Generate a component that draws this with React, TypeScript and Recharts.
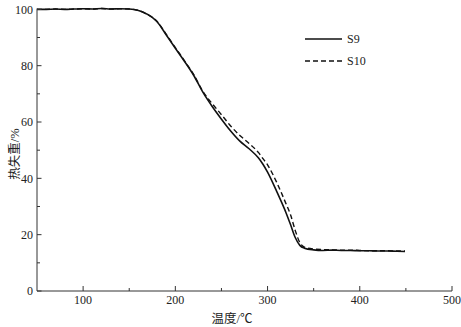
import { Label, Legend, Line, LineChart, XAxis, YAxis } from 'recharts'

const FONT = 'Liberation Serif, Times New Roman, DejaVu Serif, serif'
const CJK_FONT = 'Liberation Serif, Noto Sans CJK SC, serif'

// temperature (°C) and residual mass (%)
const temps = [
  50, 60, 70, 80, 90, 100, 110, 120, 130, 140, 150, 160, 165, 170, 180, 190, 200, 210, 220, 230,
  240, 250, 260, 270, 280, 290, 295, 300, 310, 320, 325, 330, 335, 340, 350, 360, 370, 380, 390,
  400, 410, 420, 430, 440, 449,
]
const s9 = [
  100, 100, 100.1, 100, 100.1, 100.2, 100.1, 100.3, 100.1, 100.2, 100.1, 99.6, 99, 98.2, 95.7, 91,
  86.2, 81.5, 76.5, 70.5, 65.5, 61, 56.8, 53.2, 50.5, 47.3, 45, 42.2, 35.3, 27.8, 23.5, 19, 16.2,
  15.2, 14.6, 14.4, 14.5, 14.4, 14.4, 14.3, 14.3, 14.2, 14.2, 14.1, 14.05,
]
const s10 = [
  100, 100, 100.1, 100, 100.1, 100.2, 100.1, 100.3, 100.1, 100.2, 100.1, 99.6, 99, 98.2, 95.8, 91.2,
  86.4, 81.7, 76.8, 70.8, 66.5, 62.6, 58.6, 55.2, 52.4, 49.2, 47, 44.8, 38.5, 31, 27, 21.5, 17.2,
  15.6, 14.9, 14.7, 14.6, 14.5, 14.5, 14.4, 14.3, 14.3, 14.3, 14.2, 14.2,
]
const xTicks = [100, 150, 200, 250, 300, 350, 400, 450, 500]
const yTicks = [0, 10, 20, 30, 40, 50, 60, 70, 80, 90, 100]

const data = temps.map((t, i) => ({ t, s9: s9[i], s10: s10[i] }))

const AXIS = '#333'

function XTick(props: any) {
  const { x, y, payload } = props
  const major = payload.value % 100 === 0
  return (
    <g>
      <line x1={x} x2={x} y1={y} y2={y - (major ? 5 : 3)} stroke={AXIS} />
      {major && (
        <text x={x} y={y + 13} textAnchor="middle" fontSize={12} style={{ fontFamily: FONT }} fill="#222">
          {payload.value}
        </text>
      )}
    </g>
  )
}

function YTick(props: any) {
  const { x, y, payload } = props
  const major = payload.value % 20 === 0
  const ax = x + 4
  return (
    <g>
      <line x1={ax} x2={ax + (major ? 4.5 : 3)} y1={y} y2={y} stroke={AXIS} />
      {major && (
        <text x={x} y={y} dy="0.35em" textAnchor="end" fontSize={12} style={{ fontFamily: FONT }} fill="#222">
          {payload.value}
        </text>
      )}
    </g>
  )
}

function LegendBox() {
  const row = (dash: string | undefined, name: string) => (
    <div style={{ display: 'flex', alignItems: 'center', height: 22 }}>
      <svg width={40} height={10}>
        <line x1={0} x2={37} y1={5} y2={5} stroke="#111" strokeWidth={1.5} strokeDasharray={dash} />
      </svg>
      <span style={{ fontFamily: FONT, fontSize: 12, color: '#222', marginLeft: 2 }}>{name}</span>
    </div>
  )
  return (
    <div>
      {row(undefined, 'S9')}
      {row('5 3', 'S10')}
    </div>
  )
}

export default function App() {
  return (
    <div style={{ position: 'absolute', left: 0, top: 0, background: '#fff' }}>
      <LineChart width={461} height={327} data={data} margin={{ top: 8.5, right: 9, bottom: 0, left: 0 }}>
        <XAxis
          type="number"
          dataKey="t"
          domain={[50, 500]}
          ticks={xTicks}
          interval={0}
          height={36}
          tickSize={0}
          tickMargin={0}
          tick={<XTick />}
          stroke={AXIS}
          allowDataOverflow
        >
          <Label
            content={() => (
              <text x={232} y={323} textAnchor="middle" fontSize={12.5} style={{ fontFamily: CJK_FONT }} fill="#222">
                温度/℃
              </text>
            )}
          />
        </XAxis>
        <YAxis
          type="number"
          domain={[0, 100]}
          ticks={yTicks}
          interval={0}
          width={37}
          tickSize={0}
          tickMargin={4}
          tick={<YTick />}
          stroke={AXIS}
        >
          <Label
            content={() => (
              <text
                x={15}
                y={154}
                transform="rotate(-90 15 154)"
                textAnchor="middle"
                dominantBaseline="central"
                fontSize={12.5}
                style={{ fontFamily: CJK_FONT }}
                fill="#222"
              >
                热失重/%
              </text>
            )}
          />
        </YAxis>
        <Legend
          layout="vertical"
          align="center"
          verticalAlign="middle"
          content={<LegendBox />}
          wrapperStyle={{ position: 'absolute', left: 305, top: 28, width: 80, height: 44 }}
        />
        <Line
          type="monotone"
          dataKey="s10"
          stroke="#111"
          strokeWidth={1.4}
          strokeDasharray="5 3"
          dot={false}
          isAnimationActive={false}
        />
        <Line type="monotone" dataKey="s9" stroke="#111" strokeWidth={1.6} dot={false} isAnimationActive={false} />
      </LineChart>
    </div>
  )
}
